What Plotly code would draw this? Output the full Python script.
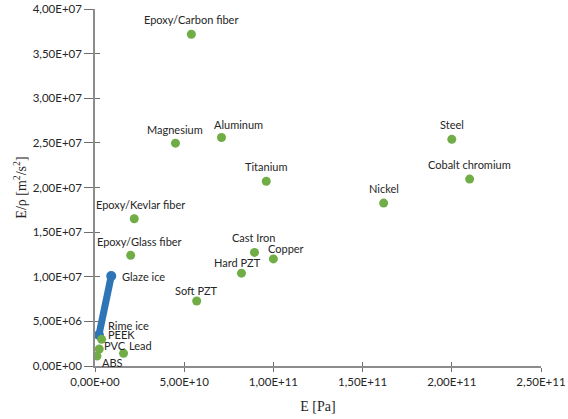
import plotly.graph_objects as go

# Specific modulus (E/rho) versus Young's modulus for common engineering materials
materials = [
    "Epoxy/Carbon fiber", "Magnesium", "Aluminum", "Steel", "Cobalt chromium",
    "Nickel", "Titanium", "Epoxy/Kevlar fiber", "Epoxy/Glass fiber", "Cast Iron",
    "Copper", "Hard PZT", "Soft PZT", "PEEK", "PVC", "Lead", "ABS",
]
young_modulus = [
    5.40e10, 4.51e10, 7.09e10, 2.00e11, 2.10e11,
    1.618e11, 9.60e10, 2.20e10, 2.00e10, 8.94e10,
    1.00e11, 8.21e10, 5.70e10, 3.7e9, 2.4e9, 1.6e10, 1.1e9,
]
specific_modulus = [
    3.717e7, 2.497e7, 2.56e7, 2.54e7, 2.094e7,
    1.825e7, 2.07e7, 1.65e7, 1.24e7, 1.273e7,
    1.20e7, 1.04e7, 7.28e6, 2.99e6, 1.90e6, 1.42e6, 1.12e6,
]

# Ice range, from rime ice to glaze ice
ice_names = ["Rime ice", "Glaze ice"]
ice_young_modulus = [2.2e9, 9.1e9]
ice_specific_modulus = [3.47e6, 1.008e7]

x_ticks = [0, 5e10, 1e11, 1.5e11, 2e11, 2.5e11]
y_ticks = [0, 5e6, 1e7, 1.5e7, 2e7, 2.5e7, 3e7, 3.5e7, 4e7]
x_range = [0, 2.5e11]
y_range = [0, 4e7]


def sci_label(v):
    return f"{v:.2E}".replace(".", ",")


# Label placement: (anchor, x shift px, y shift px) relative to each point
label_place = {
    "Epoxy/Carbon fiber": ("center", 0, 15),
    "Magnesium": ("center", 0, 14),
    "Aluminum": ("center", 17, 13),
    "Steel": ("center", 0, 15),
    "Cobalt chromium": ("center", 0, 15),
    "Nickel": ("center", 0, 15),
    "Titanium": ("center", 0, 15),
    "Epoxy/Kevlar fiber": ("center", 6, 14),
    "Epoxy/Glass fiber": ("center", 9, 14),
    "Cast Iron": ("center", 0, 15),
    "Copper": ("center", 13, 10),
    "Hard PZT": ("center", -4, 11),
    "Soft PZT": ("center", 0, 11),
    "PEEK": ("left", 4, 5),
    "PVC": ("left", 3, 4),
    "Lead": ("left", 3, 8),
    "ABS": ("left", 3, -6),
    "Rime ice": ("left", 7, 10),
    "Glaze ice": ("left", 9, 0),
}

GREEN = "#70AD47"
BLUE = "#2E75B6"
TEXT = "#262626"
AXIS = "#8C8C8C"
TICK = "#6E6E6E"
SANS = "Lato, Noto Sans, sans-serif"
SERIF = "Liberation Serif, Times New Roman, serif"
LABEL_FONT = dict(family=SANS, size=11, color=TEXT)

fig = go.Figure()

fig.add_trace(go.Scatter(
    x=ice_young_modulus, y=ice_specific_modulus,
    mode="lines+markers",
    line=dict(color=BLUE, width=7),
    marker=dict(color=BLUE, size=10),
    hoverinfo="skip", showlegend=False,
))

fig.add_trace(go.Scatter(
    x=young_modulus, y=specific_modulus,
    mode="markers",
    marker=dict(color=GREEN, size=9),
    hoverinfo="skip", showlegend=False,
))

# empty trace on the overlay axes so their inner tick marks are drawn
fig.add_trace(go.Scatter(
    x=[None], y=[None], xaxis="x2", yaxis="y2",
    mode="markers", hoverinfo="skip", showlegend=False,
))

names_all = materials + ice_names
xs_all = young_modulus + ice_young_modulus
ys_all = specific_modulus + ice_specific_modulus
for name, xv, yv in zip(names_all, xs_all, ys_all):
    anchor, dx, dy = label_place[name]
    fig.add_annotation(
        x=xv, y=yv, text=name, showarrow=False,
        xanchor=anchor, yanchor="middle",
        xshift=dx, yshift=dy, font=LABEL_FONT,
    )

fig.update_layout(
    width=568, height=419,
    margin=dict(l=95, r=27, t=9, b=53),
    paper_bgcolor="white", plot_bgcolor="white",
    showlegend=False,
    xaxis2=dict(overlaying="x", range=x_range, tickvals=x_ticks,
                showticklabels=False, showgrid=False, zeroline=False,
                showline=False, ticks="inside", ticklen=4,
                tickcolor=TICK, tickwidth=1, anchor="y2", automargin=False),
    yaxis2=dict(overlaying="y", range=y_range, tickvals=y_ticks,
                showticklabels=False, showgrid=False, zeroline=False,
                showline=False, ticks="inside", ticklen=5,
                tickcolor=TICK, tickwidth=1, anchor="x2", automargin=False),
)

fig.layout.xaxis.update(
    range=x_range, automargin=False,
    tickvals=x_ticks, ticktext=[sci_label(v) for v in x_ticks],
    showgrid=False, zeroline=False,
    showline=True, linecolor=AXIS, linewidth=1.5,
    ticks="outside", ticklen=4, tickcolor=TICK, tickwidth=1,
    tickfont=dict(family=SANS, size=11.5, color=TEXT),
    title=dict(text="E [Pa]", standoff=15,
               font=dict(family=SERIF, size=14, color=TEXT)),
)
fig.layout.yaxis.update(
    range=y_range, automargin=False,
    tickvals=y_ticks, ticktext=[sci_label(v) for v in y_ticks],
    showgrid=False, zeroline=False,
    showline=True, linecolor=AXIS, linewidth=1.5,
    ticks="outside", ticklen=9, tickcolor=TICK, tickwidth=1,
    tickfont=dict(family=SANS, size=11.5, color=TEXT),
    title=dict(text="E/ρ [m<sup>2</sup>/s<sup>2</sup>]", standoff=3,
               font=dict(family=SERIF, size=14, color=TEXT)),
)

fig.write_html("out.html")
